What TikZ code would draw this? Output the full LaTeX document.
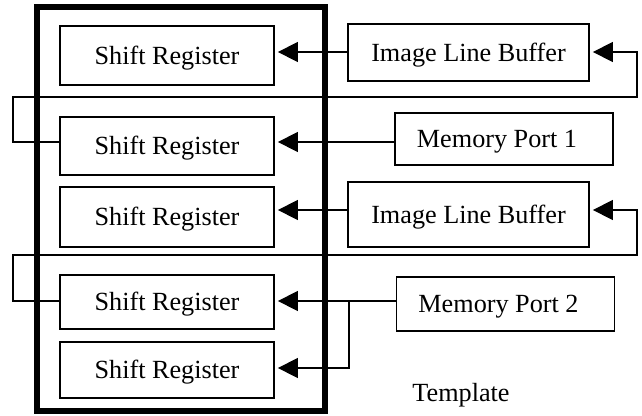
\documentclass[tikz,border=0pt]{standalone}
\usepackage{fontspec}
\setmainfont{Liberation Serif}
\usetikzlibrary{arrows.meta}
\begin{document}
\begin{tikzpicture}[x=1pt,y=-1pt,
  blk/.style={draw,line width=1.8pt,inner sep=0pt,text height=17.4pt,text depth=0pt,
    font=\fontsize{26.2}{30}\selectfont},
  srbox/.style={blk,minimum width=214pt},
  bufbox/.style={blk,minimum width=241pt},
  portbox/.style={blk,minimum width=218pt},
  wire/.style={line width=1.4pt},
  feed/.style={wire,-{Triangle[length=20pt,width=20pt]}},
  frame/.style={line width=6pt}]
\useasboundingbox (0,0) rectangle (642,415);

% template frame
\draw[frame] (37,7) rectangle (325,411);

% shift registers inside the template
\node[srbox,minimum height=59pt] (sr1) at (167,55.5) {Shift Register};
\node[srbox,minimum height=58pt] (sr2) at (167,146) {Shift Register};
\node[srbox,minimum height=60pt] (sr3) at (167,217) {Shift Register};
\node[srbox,minimum height=54pt] (sr4) at (167,302) {Shift Register};
\node[srbox,minimum height=56pt] (sr5) at (167,370) {Shift Register};

% line buffers and memory ports
\node[bufbox,minimum height=57pt] (ilb1) at (468.5,52.5) {Image Line Buffer};
\node[portbox,minimum height=52pt] (mp1) at (504,139) {\hspace*{-14pt}Memory Port 1};
\node[bufbox,minimum height=65pt] (ilb2) at (468.5,214.5) {Image Line Buffer};
\node[portbox,minimum height=54pt] (mp2) at (505.5,304) {\hspace*{-14pt}Memory Port 2};

\node[anchor=base,font=\fontsize{26.2}{30}\selectfont] (tmpl) at (461,401) {Template};

% data into the shift registers
\draw[feed,shorten >=3pt] (ilb1.west |- 0,52) -- (sr1.east |- 0,52);
\draw[feed,shorten >=3pt] (mp1.west |- 0,142) -- (sr2.east |- 0,142);
\draw[feed,shorten >=3pt] (ilb2.west |- 0,210) -- (sr3.east |- 0,210);
\draw[feed,shorten >=3pt] (mp2.west |- 0,301) -- (sr4.east |- 0,301);
\coordinate (split) at (349,301);
\draw[feed,shorten >=3pt] (split) -- (split |- 0,368) -- (sr5.east |- 0,368);

% write-back loops into the line buffers
\draw[feed,shorten >=3pt] (sr2.west |- 0,142) -- (13,142) -- (13,97) -- (637,97) -- (637,52) -- (ilb1.east |- 0,52);
\draw[feed,shorten >=3pt] (sr4.west |- 0,301) -- (13,301) -- (13,255) -- (637,255) -- (637,210) -- (ilb2.east |- 0,210);
\end{tikzpicture}
\end{document}
